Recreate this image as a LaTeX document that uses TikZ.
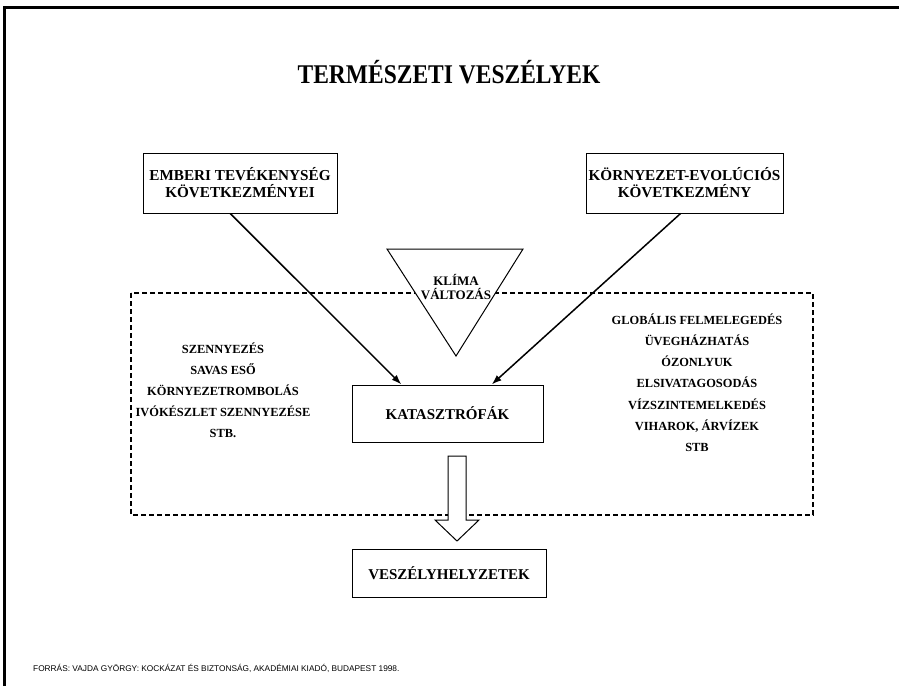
\documentclass[tikz,border=0pt]{standalone}
\usepackage{fontspec}
\usepackage{graphicx}
\setmainfont{Liberation Serif}
\newfontfamily\footfont{Liberation Sans}
\usetikzlibrary{calc,arrows.meta}
\begin{document}
\begin{tikzpicture}[x=1pt,y=1pt,
  box/.style={draw, line width=1pt, fill=white, align=center, font=\fontsize{15.2}{17}\selectfont\bfseries, inner sep=0pt},
  item/.style={font=\fontsize{12.4}{13}\selectfont\bfseries, inner sep=0pt},
  conn/.style={line width=1.5pt, -{Latex[length=10pt,width=7pt]}},
  frame/.style={line width=3pt}]
\useasboundingbox (0,0) rectangle (899,-686);
% outer frame (left and top)
\draw[frame] (4,-686) -- (4,-7) -- (899,-7);
% title
\node[font=\fontsize{23.5}{26}\selectfont\bfseries] (title) at (449,-72) {\scalebox{1}[1.15]{TERMÉSZETI VESZÉLYEK}};
% dashed region
\draw[line width=1.3pt, dash pattern=on 5pt off 3pt] (131,-293) rectangle (813,-515);
% boxes
\node[box, minimum width=194pt, minimum height=60pt] (emb) at (240,-183) {EMBERI TEVÉKENYSÉG\\KÖVETKEZMÉNYEI};
\node[box, minimum width=197pt, minimum height=60pt] (evo) at (684.5,-183) {KÖRNYEZET-EVOLÚCIÓS\\KÖVETKEZMÉNY};
\node[box, minimum width=191pt, minimum height=57pt, font=\fontsize{15}{17}\selectfont\bfseries] (kat) at (447.5,-413.5) {KATASZTRÓFÁK};
\node[box, minimum width=194pt, minimum height=48pt, font=\fontsize{15}{17}\selectfont\bfseries] (vesz) at (449,-573) {VESZÉLYHELYZETEK};
% triangle
\coordinate (tl) at (387,-249);
\coordinate (tr) at (523,-249);
\coordinate (tb) at (456,-356);
\draw[line width=1pt, fill=white] (tl) -- (tr) -- (tb) -- cycle;
\node[align=center, font=\fontsize{13}{13.5}\selectfont\bfseries, inner sep=0pt] (klima) at (456,-287) {KLÍMA\\VÁLTOZÁS};
% hollow arrow
\draw[line width=1pt, fill=white] (448,-456) -- (466,-456) -- (466,-520) -- (479,-520) -- (457,-541) -- (435,-520) -- (448,-520) -- cycle;
% left items
\node[item] (l1) at (223,-348) {SZENNYEZÉS};
\node[item] (l2) at (223,-369) {SAVAS ESŐ};
\node[item] (l3) at (223,-390) {KÖRNYEZETROMBOLÁS};
\node[item] (l4) at (223,-411) {IVÓKÉSZLET SZENNYEZÉSE};
\node[item] (l5) at (223,-433) {STB.};
% right items
\node[item] (r1) at (697,-319) {GLOBÁLIS FELMELEGEDÉS};
\node[item] (r2) at (697,-340) {ÜVEGHÁZHATÁS};
\node[item] (r3) at (697,-361) {ÓZONLYUK};
\node[item] (r4) at (697,-382) {ELSIVATAGOSODÁS};
\node[item] (r5) at (697,-404) {VÍZSZINTEMELKEDÉS};
\node[item] (r6) at (697,-426) {VIHAROK, ÁRVÍZEK};
\node[item] (r7) at (697,-447) {STB};
% connectors
\coordinate (a1s) at ($(emb.south west)!0.45!(emb.south east)$);
\coordinate (a1e) at ($(kat.north west)!0.26!(kat.north east)$);
\coordinate (a2s) at ($(evo.south west)!0.48!(evo.south east)$);
\coordinate (a2e) at ($(kat.north west)!0.73!(kat.north east)$);
\draw[conn] (a1s) -- (a1e);
\draw[conn] (a2s) -- (a2e);
% footer
\node[anchor=west, font=\footfont\fontsize{8.3}{9}\selectfont, inner sep=0pt] (src) at (33,-668) {FORRÁS: VAJDA GYÖRGY: KOCKÁZAT ÉS BIZTONSÁG, AKADÉMIAI KIADÓ, BUDAPEST 1998.};
\end{tikzpicture}
\end{document}
